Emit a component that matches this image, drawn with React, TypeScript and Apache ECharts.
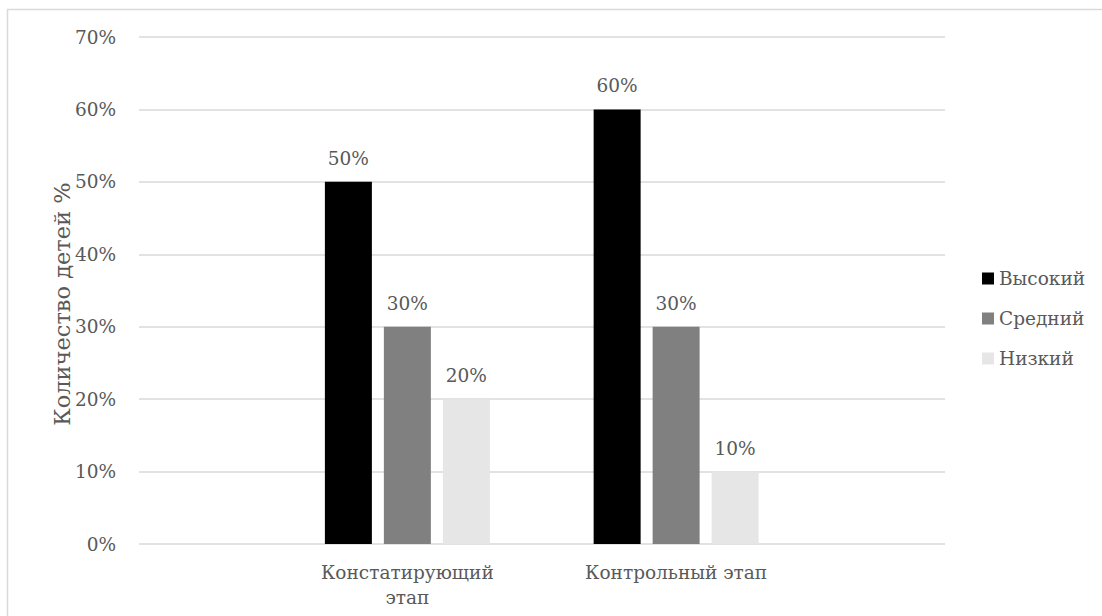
import React, { useEffect, useRef } from "react";
import * as echarts from "echarts";

const categories = ["Констатирующий этап", "Контрольный этап"];
const seriesNames = ["Высокий", "Средний", "Низкий"];
const highValues = [50, 60];
const midValues = [30, 30];
const lowValues = [20, 10];
const seriesColors = ["#000000", "#808080", "#e6e6e6"];
const yMin = 0;
const yMax = 70;
const yInterval = 10;
const yAxisTitle = "Количество детей %";

const FONT = "DejaVu Serif";
const FS = 18.5;
const TEXT = "#595959";

export default function App() {
  const ref = useRef<HTMLDivElement>(null);
  useEffect(() => {
    if (!ref.current) return;
    const chart = echarts.init(ref.current, undefined, { renderer: "svg" });
    const values = [highValues, midValues, lowValues];
    chart.setOption({
      animation: false,
      backgroundColor: "#ffffff",
      textStyle: { fontFamily: FONT },
      graphic: [
        {
          type: "rect",
          shape: { x: 7.5, y: 9.5, width: 1110, height: 620 },
          style: { fill: "none", stroke: "#d9d9d9", lineWidth: 1.5 },
          silent: true,
        },
      ],
      grid: [
        { left: 139, right: 157, top: 37, bottom: 72, outerBoundsMode: "none" },
        { left: 273, right: 291.5, top: 37, bottom: 72, outerBoundsMode: "none" },
      ],
      legend: {
        orient: "vertical",
        left: 977,
        top: 264,
        icon: "rect",
        itemWidth: 12,
        itemHeight: 12,
        itemGap: 21,
        data: seriesNames,
        textStyle: { fontFamily: FONT, fontSize: FS, color: TEXT },
      },
      xAxis: [
        {
          type: "category",
          gridIndex: 0,
          data: [""],
          show: false,
        },
        {
          type: "category",
          gridIndex: 1,
          data: categories,
          axisLine: { show: false },
          axisTick: { show: false },
          axisLabel: {
            fontFamily: FONT,
            fontSize: FS,
            color: TEXT,
            margin: 16,
            lineHeight: 25,
            align: "center",
            formatter: (v: string) => (v.length > 17 ? v.replace(" ", "\n") : v),
          },
        },
      ],
      yAxis: [
        {
          type: "value",
          gridIndex: 0,
          min: yMin,
          max: yMax,
          interval: yInterval,
          axisLine: { show: false },
          axisTick: { show: false },
          axisLabel: {
            formatter: "{value}%",
            fontFamily: FONT,
            fontSize: FS,
            color: TEXT,
            margin: 23,
          },
          splitLine: { lineStyle: { color: "#d9d9d9", width: 1.5 } },
          name: yAxisTitle,
          nameLocation: "middle",
          nameGap: 66,
          nameMoveOverlap: false,
          nameTextStyle: {
            fontFamily: FONT,
            fontSize: 22.5,
            color: TEXT,
            padding: [0, 27, 0, 0],
          },
        },
        {
          type: "value",
          gridIndex: 1,
          min: yMin,
          max: yMax,
          interval: yInterval,
          show: false,
        },
      ],
      series: seriesNames.map((name, i) => ({
        name,
        type: "bar",
        xAxisIndex: 1,
        yAxisIndex: 1,
        data: values[i],
        barWidth: 47,
        barGap: "25.5%",
        itemStyle: { color: seriesColors[i] },
        label: {
          show: true,
          position: "top",
          distance: 14,
          formatter: "{c}%",
          fontFamily: FONT,
          fontSize: FS,
          color: TEXT,
        },
      })),
    });
    return () => chart.dispose();
  }, []);
  return (
    <div
      ref={ref}
      style={{ position: "absolute", left: 0, top: 0, width: 1102, height: 616 }}
    />
  );
}
